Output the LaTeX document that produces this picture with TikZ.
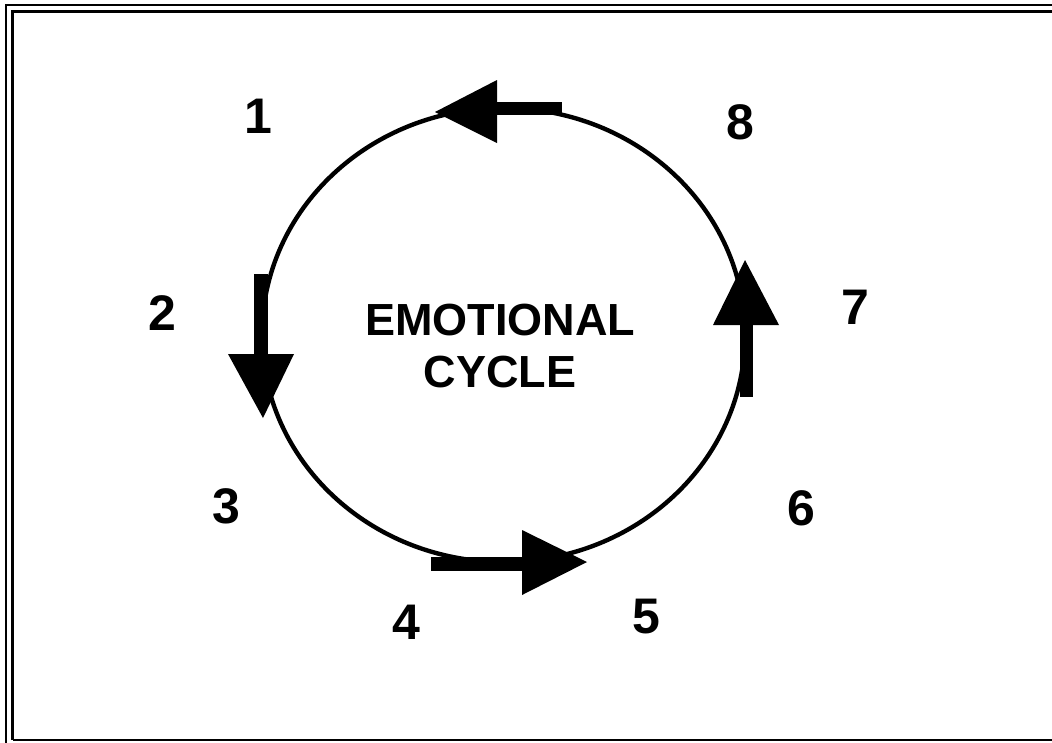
\documentclass[tikz,border=0pt]{standalone}
\usepackage{fontspec}
\setmainfont{Liberation Sans}
\begin{document}
\begin{tikzpicture}[x=1pt,y=-1pt,
  frameline/.style={line width=2.4pt},
  cycleline/.style={line width=4.4pt},
  arrowfill/.style={fill=black,draw=none},
  bigtxt/.style={font=\fontsize{45}{52}\selectfont\bfseries,align=center,inner sep=0pt},
  numtxt/.style={font=\fontsize{50}{52}\selectfont\bfseries,inner sep=0pt}]
\useasboundingbox (0,0) rectangle (1052,742);
\fill[white] (0,0) rectangle (1052,742);
% double frame (cropped at right and bottom)
\draw[frameline] (6,1060) -- (6,5.2) -- (1060,5.2);
\draw[frameline] (12.5,740) -- (12.5,11.3) -- (1060,11.3);
\draw[frameline] (12.5,740) -- (1060,740);
% cycle
\draw[cycleline] (503.5,335) ellipse [x radius=241.5, y radius=227];
% top arrow (pointing left)
\fill[arrowfill] (562,102) rectangle (496,115);
\fill[arrowfill] (497,80) -- (497,143) -- (435,112) -- cycle;
% left arrow (pointing down)
\fill[arrowfill] (254,274) rectangle (268,356);
\fill[arrowfill] (228,354) -- (294,354) -- (263,418) -- cycle;
% bottom arrow (pointing right)
\fill[arrowfill] (431,557) rectangle (523,571);
\fill[arrowfill] (522,530) -- (522,595) -- (587,562) -- cycle;
% right arrow (pointing up)
\fill[arrowfill] (740,397) rectangle (753,324);
\fill[arrowfill] (713,325) -- (779,325) -- (745,260) -- cycle;
% centre text
\node[bigtxt] (title) at (500,346) {EMOTIONAL\\CYCLE};
% numbers
\node[numtxt] (n1) at (258,116) {1};
\node[numtxt] (n2) at (162,313) {2};
\node[numtxt] (n3) at (226,506) {3};
\node[numtxt] (n4) at (406,622) {4};
\node[numtxt] (n5) at (646,617) {5};
\node[numtxt] (n6) at (801,508) {6};
\node[numtxt] (n7) at (855,307) {7};
\node[numtxt] (n8) at (740,122) {8};
\end{tikzpicture}
\end{document}
